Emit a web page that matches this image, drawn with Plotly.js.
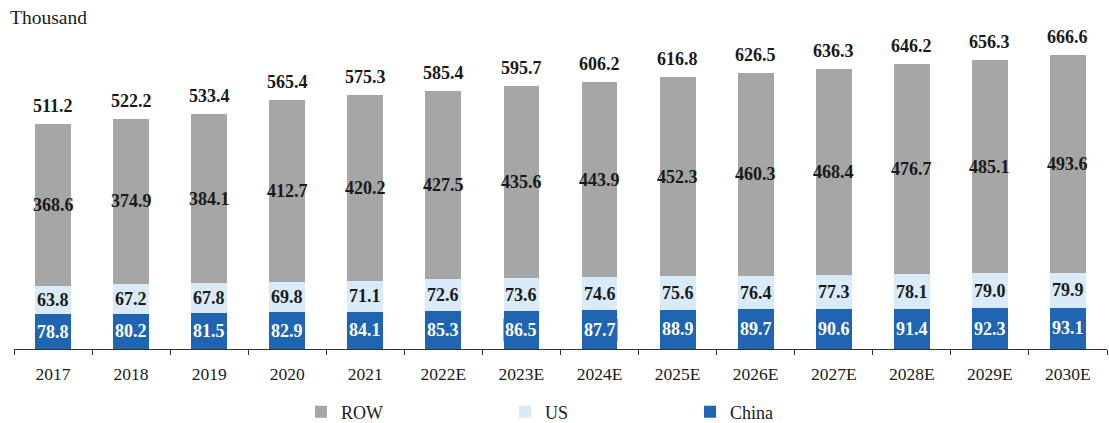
<!DOCTYPE html>
<html>
<head>
<meta charset="utf-8">
<script src="https://cdn.plot.ly/plotly-3.0.1.min.js"></script>
<style>html,body{margin:0;padding:0;background:#fff}#chart{width:1109px;height:423px}</style>
</head>
<body>
<div id="chart"></div>
<script>
const years = ['2017','2018','2019','2020','2021','2022E','2023E','2024E','2025E','2026E','2027E','2028E','2029E','2030E'];
const china = [78.8, 80.2, 81.5, 82.9, 84.1, 85.3, 86.5, 87.7, 88.9, 89.7, 90.6, 91.4, 92.3, 93.1];
const us = [63.8, 67.2, 67.8, 69.8, 71.1, 72.6, 73.6, 74.6, 75.6, 76.4, 77.3, 78.1, 79.0, 79.9];
const row = [368.6, 374.9, 384.1, 412.7, 420.2, 427.5, 435.6, 443.9, 452.3, 460.3, 468.4, 476.7, 485.1, 493.6];
const totals = [511.2, 522.2, 533.4, 565.4, 575.3, 585.4, 595.7, 606.2, 616.8, 626.5, 636.3, 646.2, 656.3, 666.6];

const C_CHINA = '#1f65b2', C_US = '#d9ebf9', C_ROW = '#a6a6a6';
const FONT = 'Liberation Serif, Times New Roman, serif';
const LBL = 18;

const traces = [
  {type:'bar', name:'China', x:years, y:china, marker:{color:C_CHINA}, legend:'legend3', hoverinfo:'none'},
  {type:'bar', name:'US', x:years, y:us, marker:{color:C_US}, legend:'legend2', hoverinfo:'none'},
  {type:'bar', name:'ROW', x:years, y:row, marker:{color:C_ROW}, legend:'legend', hoverinfo:'none'}
];

const ann = [];
const fmt = v => v.toFixed(1);
years.forEach((yr, i) => {
  ann.push({x:i, y:china[i]/2, text:'<b>'+fmt(china[i])+'</b>', showarrow:false,
    font:{family:FONT, size:LBL, color:'#ffffff'}, bgcolor:C_CHINA, borderpad:1});
  ann.push({x:i, y:china[i] + us[i]/2, text:'<b>'+fmt(us[i])+'</b>', showarrow:false,
    font:{family:FONT, size:LBL, color:'#1a1a1a'}});
  ann.push({x:i, y:china[i] + us[i] + row[i]/2, text:'<b>'+fmt(row[i])+'</b>', showarrow:false,
    font:{family:FONT, size:LBL, color:'#1a1a1a'}});
  ann.push({x:i, y:totals[i], text:'<b>'+fmt(totals[i])+'</b>', showarrow:false, yanchor:'middle', yshift:18,
    font:{family:FONT, size:LBL, color:'#1a1a1a'}});
});
ann.push({xref:'paper', yref:'paper', x:-0.0055, y:1.0744, xanchor:'left', yanchor:'middle',
  text:'Thousand', showarrow:false, font:{family:FONT, size:19.5, color:'#1a1a1a'}});

const legCommon = {orientation:'h', xref:'container', yref:'container', y:0.026, yanchor:'middle', xanchor:'left',
  font:{family:FONT, size:18, color:'#1a1a1a'}, bgcolor:'rgba(0,0,0,0)'};

const layout = {
  width:1109, height:423,
  margin:{l:14, r:2, t:40, b:74},
  barmode:'stack', bargap:0.54,
  paper_bgcolor:'#ffffff', plot_bgcolor:'#ffffff',
  font:{family:FONT, size:17, color:'#1a1a1a'},
  xaxis:{type:'category', range:[-0.5, years.length - 0.5], showline:true, linecolor:'#333333', linewidth:1,
    ticks:'outside', tickson:'boundaries', ticklen:5, tickcolor:'#333333', showgrid:false, tickangle:0,
    ticklabelstandoff:9, automargin:false,
    tickfont:{family:FONT, size:17.5, color:'#1a1a1a'}, fixedrange:true},
  yaxis:{range:[0, 701], visible:false, showgrid:false, zeroline:false, fixedrange:true},
  legend: Object.assign({}, legCommon, {x:301/1109}),
  legend2: Object.assign({}, legCommon, {x:505/1109}),
  legend3: Object.assign({}, legCommon, {x:690/1109}),
  annotations: ann,
  showlegend:true
};

Plotly.newPlot('chart', traces, layout, {displayModeBar:false, staticPlot:true});
</script>
</body>
</html>
